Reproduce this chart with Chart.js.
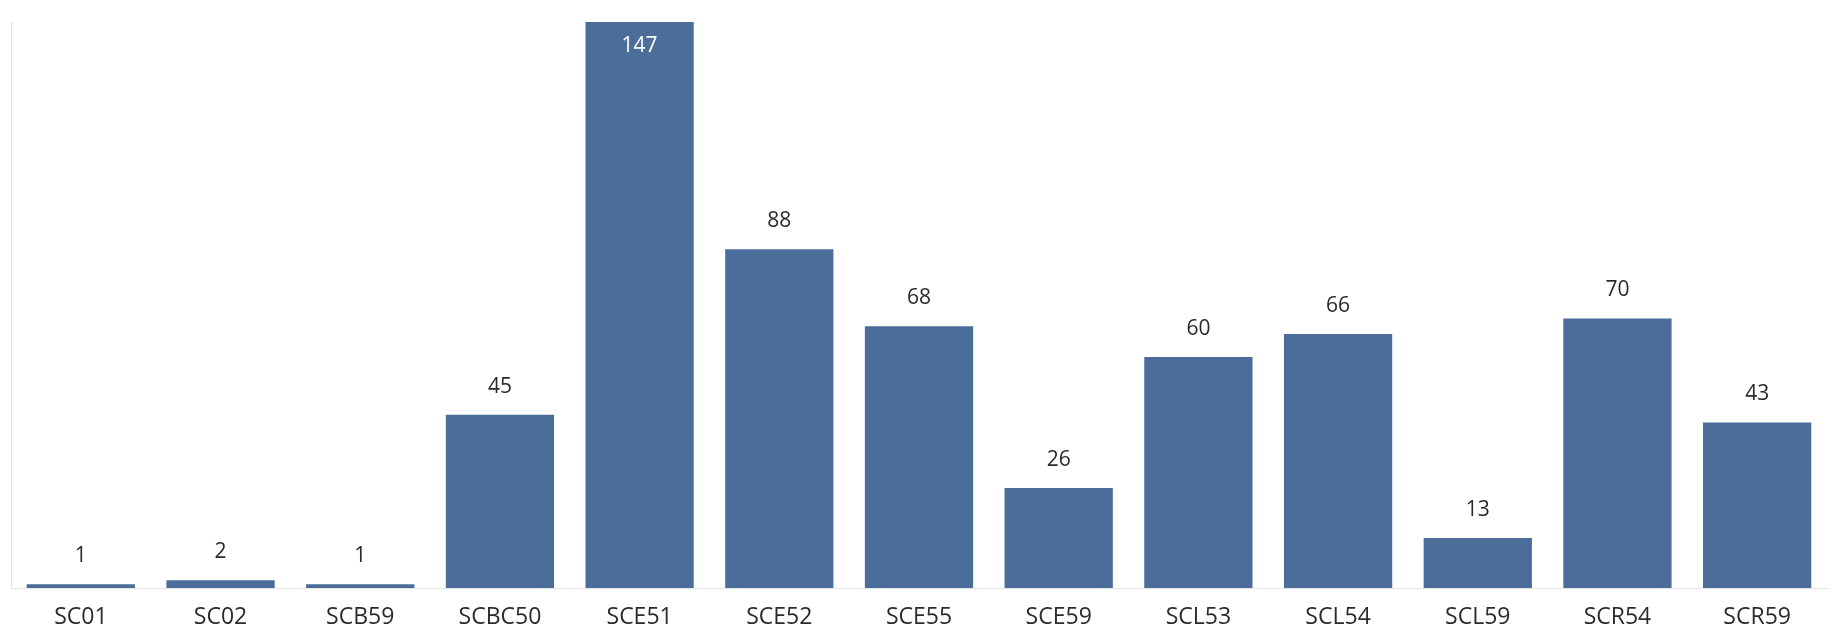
<!DOCTYPE html>
<html>
<head>
<meta charset="utf-8">
<script src="https://cdn.jsdelivr.net/npm/chart.js@4/dist/chart.umd.min.js"></script>
<style>
  html, body { margin: 0; padding: 0; background: #fff; }
  #wrap { width: 1833px; height: 634px; position: relative; }
</style>
</head>
<body>
<div id="wrap"><canvas id="chart"></canvas></div>
<script>
const categories = ['SC01', 'SC02', 'SCB59', 'SCBC50', 'SCE51', 'SCE52', 'SCE55', 'SCE59', 'SCL53', 'SCL54', 'SCL59', 'SCR54', 'SCR59'];
const counts = [1, 2, 1, 45, 147, 88, 68, 26, 60, 66, 13, 70, 43];

const barColor = '#4a6e99';
const textColor = '#2b2b2b';
const fontFamily = '"Open Sans", "Noto Sans", sans-serif';

// value labels above each bar, pushed inside when there is no room
const valueLabels = {
  id: 'valueLabels',
  afterDatasetsDraw(chart) {
    const ctx = chart.ctx;
    const meta = chart.getDatasetMeta(0);
    ctx.save();
    ctx.font = '21px ' + fontFamily;
    ctx.textAlign = 'center';
    ctx.textBaseline = 'middle';
    meta.data.forEach((bar, i) => {
      let y = bar.y - 28;
      let color = textColor;
      if (y < chart.chartArea.top + 6) {
        y = bar.y + 24;
        color = '#ffffff';
      }
      ctx.fillStyle = color;
      ctx.fillText(String(counts[i]), bar.x, y);
    });
    ctx.restore();
  }
};

new Chart(document.getElementById('chart').getContext('2d'), {
  type: 'bar',
  data: {
    labels: categories,
    datasets: [{
      data: counts,
      backgroundColor: barColor,
      barPercentage: 0.775,
      categoryPercentage: 1
    }]
  },
  options: {
    responsive: true,
    maintainAspectRatio: false,
    animation: false,
    layout: { padding: { top: 22, left: 11, right: 6, bottom: 0 } },
    plugins: {
      legend: { display: false },
      tooltip: { enabled: false }
    },
    scales: {
      x: {
        afterFit(scale) { scale.height = 46; },
        grid: { display: false, drawTicks: false },
        border: { display: true, color: '#e4e4e4', width: 1 },
        ticks: {
          color: textColor,
          padding: 16,
          maxRotation: 0,
          font: { size: 23, family: fontFamily }
        }
      },
      y: {
        min: 0,
        max: 147,
        grid: { display: false, drawTicks: false },
        border: { display: true, color: '#e4e4e4', width: 1 },
        ticks: { display: false }
      }
    }
  },
  plugins: [valueLabels]
});
</script>
</body>
</html>
